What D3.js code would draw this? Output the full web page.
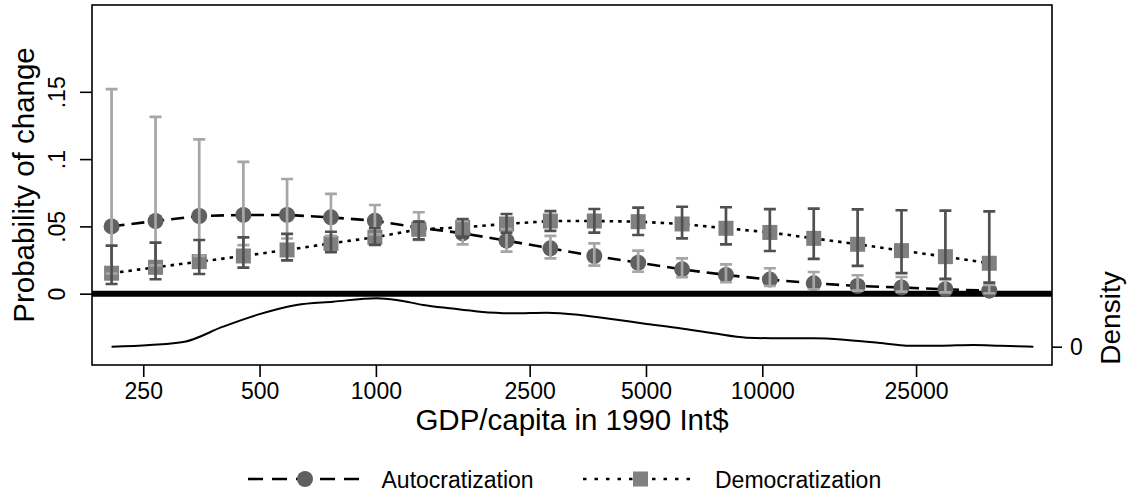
<!DOCTYPE html>
<meta charset="utf-8">
<head>
<title>Probability of change by GDP/capita</title>
<script src="https://cdnjs.cloudflare.com/ajax/libs/d3/7.8.5/d3.min.js" charset="utf-8"></script>
<style type="text/css">
body {margin: 0; background: #fff;}
text {font-family: "Liberation Sans", Arial, sans-serif; fill: #000;}
</style>
</head>
<body>
<script>
// Data
var gdp = [207, 269, 349, 454, 589, 765, 994, 1291, 1677, 2178, 2829,
           3675, 4773, 6200, 8053, 10460, 13587, 17648, 22923, 29775, 38675];

var auto   = [0.050, 0.054, 0.0577, 0.0585, 0.0585, 0.0567, 0.0542, 0.049, 0.0449, 0.0394, 0.0337,
              0.028, 0.023, 0.0181, 0.0139, 0.0105, 0.0077, 0.0057, 0.0046, 0.0033, 0.0022];
var autoLo = [0.015, 0.021, 0.028, 0.036, 0.041, 0.043, 0.044, 0.040, 0.0367, 0.0312, 0.0263,
              0.0208, 0.0163, 0.0122, 0.0085, 0.0057, 0.0033, 0.0022, 0.0015, 0.001, 0.0003];
var autoHi = [0.152, 0.1313, 0.1147, 0.098, 0.0852, 0.0741, 0.0659, 0.0605, 0.054, 0.048, 0.0429,
              0.0374, 0.032, 0.0263, 0.0218, 0.0189, 0.0161, 0.0137, 0.0124, 0.0104, 0.0065];

var dem   = [0.0152, 0.0196, 0.0238, 0.028, 0.0325, 0.0374, 0.0419, 0.0478, 0.0493, 0.0518, 0.054,
             0.054, 0.0535, 0.0518, 0.0486, 0.0455, 0.0411, 0.0367, 0.032, 0.0275, 0.0226];
var demLo = [0.0072, 0.0107, 0.0146, 0.0193, 0.0248, 0.0308, 0.0362, 0.0404, 0.0419, 0.0453, 0.0466,
             0.0453, 0.0436, 0.0411, 0.0367, 0.0317, 0.0258, 0.0206, 0.0152, 0.0111, 0.0082];
var demHi = [0.0357, 0.0379, 0.0399, 0.0419, 0.0444, 0.046, 0.0486, 0.0535, 0.0555, 0.0592, 0.0614,
             0.0629, 0.0639, 0.0646, 0.0642, 0.0628, 0.0632, 0.0627, 0.062, 0.0617, 0.0612];

// kernel density of GDP/capita (right axis)
var densX = [207, 260, 320, 402, 492, 623, 775, 1004, 1131, 1326, 1554, 1859, 2267, 2766, 3373,
             4113, 5020, 6122, 7466, 9108, 11110, 13550, 16530, 20560, 23640, 28830, 35170, 41220, 50280];
var densY = [0.0, 0.011, 0.031, 0.124, 0.197, 0.259, 0.279, 0.300, 0.290, 0.259, 0.238, 0.217, 0.207,
             0.211, 0.197, 0.170, 0.141, 0.114, 0.083, 0.056, 0.052, 0.052, 0.042, 0.021, 0.006,
             0.006, 0.011, 0.006, 0.0];

var xTicks = [250, 500, 1000, 2500, 5000, 10000, 25000];
var yTicks = [0, 0.05, 0.1, 0.15];
var yTickLabels = ["0", ".05", ".1", ".15"];

// Layout
var width = 1130, height = 496;
var plotL = 92, plotR = 1052, plotT = 5, plotB = 365;
var font = "Liberation Sans, Arial, sans-serif";

var svg = d3.select("body").append("svg")
  .attr("width", width)
  .attr("height", height);

var x = d3.scaleLog().domain([184.2, 56200]).range([plotL, plotR]);
var y = d3.scaleLinear().domain([-0.053, 0.2145]).range([plotB, plotT]);
var y2 = d3.scaleLinear().domain([-0.1135, 2.118]).range([plotB, plotT]);

// density curve
svg.append("path")
  .datum(d3.range(densX.length))
  .attr("fill", "none")
  .attr("stroke", "#000")
  .attr("stroke-width", 2)
  .attr("d", d3.line().curve(d3.curveMonotoneX)
    .x(i => x(densX[i])).y(i => y2(densY[i])));

// zero line
svg.append("line")
  .attr("x1", plotL).attr("x2", plotR)
  .attr("y1", y(0)).attr("y2", y(0))
  .attr("stroke", "#000").attr("stroke-width", 6);

var idx = d3.range(gdp.length);

// connecting lines
svg.append("path")
  .datum(idx)
  .attr("fill", "none").attr("stroke", "#000")
  .attr("stroke-width", 2.6).attr("stroke-dasharray", "13,7")
  .attr("d", d3.line().x(i => x(gdp[i])).y(i => y(auto[i])));

svg.append("path")
  .datum(idx)
  .attr("fill", "none").attr("stroke", "#000")
  .attr("stroke-width", 2.6).attr("stroke-dasharray", "3.5,5")
  .attr("d", d3.line().x(i => x(gdp[i])).y(i => y(dem[i])));

// markers
svg.append("g").selectAll("circle")
  .data(idx).enter().append("circle")
  .attr("cx", i => x(gdp[i])).attr("cy", i => y(auto[i]))
  .attr("r", 8).attr("fill", "#606060");

svg.append("g").selectAll("rect")
  .data(idx).enter().append("rect")
  .attr("x", i => x(gdp[i]) - 7.5).attr("y", i => y(dem[i]) - 7.5)
  .attr("width", 15).attr("height", 15).attr("fill", "#808080");

// confidence intervals
function caps(lo, hi, color) {
  var g = svg.append("g").attr("stroke", color).attr("stroke-width", 2.7).attr("fill", "none");
  var cap = 6;
  g.selectAll("path").data(idx).enter().append("path")
    .attr("d", function(i) {
      var cx = x(gdp[i]), a = y(lo[i]), b = y(hi[i]);
      return "M" + (cx - cap) + "," + b + "H" + (cx + cap) +
             "M" + cx + "," + b + "V" + a +
             "M" + (cx - cap) + "," + a + "H" + (cx + cap);
    });
}
caps(autoLo, autoHi, "#a6a6a6");
caps(demLo, demHi, "#505050");

// frame
svg.append("rect")
  .attr("x", plotL).attr("y", plotT)
  .attr("width", plotR - plotL).attr("height", plotB - plotT)
  .attr("fill", "none").attr("stroke", "#000").attr("stroke-width", 1.6);

// x axis
var xAxis = svg.append("g").attr("transform", "translate(0," + plotB + ")")
  .call(d3.axisBottom(x).tickValues(xTicks).tickFormat(d3.format("d")).tickSize(12).tickPadding(6));
xAxis.select(".domain").remove();
xAxis.selectAll("line").attr("stroke", "#000").attr("stroke-width", 1.6);
xAxis.selectAll("text").attr("font-size", 23).attr("font-family", font);

// left y axis
var yAxis = svg.append("g").attr("transform", "translate(" + plotL + ",0)")
  .call(d3.axisLeft(y).tickValues(yTicks).tickFormat((d, i) => yTickLabels[i]).tickSize(12));
yAxis.select(".domain").remove();
yAxis.selectAll("line").attr("stroke", "#000").attr("stroke-width", 1.6);
yAxis.selectAll("text")
  .attr("font-size", 23).attr("font-family", font)
  .attr("text-anchor", "middle").attr("dy", null).attr("x", null)
  .attr("transform", "translate(-27,0) rotate(-90)");

// right density axis
var y2Axis = svg.append("g").attr("transform", "translate(" + plotR + ",0)")
  .call(d3.axisRight(y2).tickValues([0]).tickFormat(d3.format("d")).tickSize(10).tickPadding(8));
y2Axis.select(".domain").remove();
y2Axis.selectAll("line").attr("stroke", "#000").attr("stroke-width", 1.6);
y2Axis.selectAll("text").attr("font-size", 23).attr("font-family", font);

// titles
svg.append("text")
  .attr("x", (plotL + plotR) / 2).attr("y", 429.5)
  .attr("text-anchor", "middle").attr("font-size", 29.5)
  .text("GDP/capita in 1990 Int$");

svg.append("text")
  .attr("transform", "translate(33.5," + ((plotT + plotB) / 2) + ") rotate(-90)")
  .attr("text-anchor", "middle").attr("font-size", 29.5)
  .text("Probability of change");

svg.append("text")
  .attr("transform", "translate(1120,318) rotate(-90)")
  .attr("text-anchor", "middle").attr("font-size", 28)
  .text("Density");

// legend
var ly = 479;
var leg = svg.append("g");
leg.append("line").attr("x1", 248).attr("x2", 360).attr("y1", ly).attr("y2", ly)
  .attr("stroke", "#000").attr("stroke-width", 2.6).attr("stroke-dasharray", "15,9");
leg.append("circle").attr("cx", 305).attr("cy", ly).attr("r", 8).attr("fill", "#606060");
leg.append("text").attr("x", 381.5).attr("y", ly + 8.5).attr("font-size", 23).text("Autocratization");

leg.append("line").attr("x1", 583).attr("x2", 692).attr("y1", ly).attr("y2", ly)
  .attr("stroke", "#000").attr("stroke-width", 2.6).attr("stroke-dasharray", "3.5,8");
leg.append("rect").attr("x", 633).attr("y", ly - 7.5).attr("width", 15).attr("height", 15).attr("fill", "#808080");
leg.append("text").attr("x", 715).attr("y", ly + 8.5).attr("font-size", 23).text("Democratization");
</script>
</body>
